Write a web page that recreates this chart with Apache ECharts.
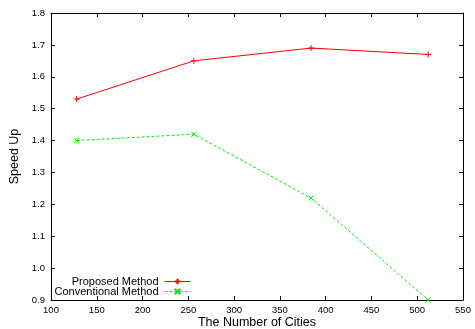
<!DOCTYPE html>
<html><head><meta charset="utf-8">
<script src="https://cdn.jsdelivr.net/npm/echarts@6/dist/echarts.min.js"></script>
<style>html,body{margin:0;padding:0;background:#fff}#c{width:475px;height:329px}</style>
</head><body><div id="c"></div>
<script>
const cities = [128, 256, 384, 512];
const proposed = [1.53, 1.65, 1.69, 1.67];
const conventional = [1.40, 1.42, 1.22, 0.90];
const xName = 'The Number of Cities';
const yName = 'Speed Up';
const seriesNames = ['Proposed Method', 'Conventional Method'];

const plus = 'path://M0,5L10,5M5,0L5,10';
const cross = 'path://M0,0L10,10M10,0L0,10';
const font = 'Liberation Sans';
const red = '#ff0000', green = '#00ee00';
const chart = echarts.init(document.getElementById('c'), null, {renderer: 'canvas'});
const axisCommon = {
  axisLine: {show: true, lineStyle: {color: '#000', width: 1}},
  axisTick: {show: true, inside: true, length: 4, lineStyle: {color: '#000'}},
  splitLine: {show: false}
};
const legendCommon = {
  right: 284, align: 'right', itemWidth: 26, itemHeight: 7, itemGap: 0, padding: 0,
  lineStyle: {width: 1, color: 'inherit', type: 'inherit'},
  textStyle: {fontFamily: font, fontSize: 11, lineHeight: 11, color: '#000', padding: [0, 1, 0, 0]}
};
chart.setOption({
  animation: false,
  backgroundColor: '#fff',
  grid: {left: 51, right: 12, top: 13, bottom: 29, show: false, containLabel: false, outerBoundsMode: 'none'},
  xAxis: [
    Object.assign({type: 'value', min: 100, max: 550, interval: 50, position: 'bottom',
      name: xName, nameLocation: 'middle', nameGap: 16, nameMoveOverlap: false,
      nameTextStyle: {fontFamily: font, fontSize: 12.5, color: '#000'},
      axisLabel: {fontFamily: font, fontSize: 9.5, color: '#000', margin: 5}}, axisCommon),
    Object.assign({type: 'value', min: 100, max: 550, interval: 50, position: 'top',
      axisLabel: {show: false}}, axisCommon)
  ],
  yAxis: [
    Object.assign({type: 'value', min: 0.9, max: 1.8, interval: 0.1, position: 'left',
      name: yName, nameLocation: 'middle', nameGap: 29, nameRotate: 90,
      nameTextStyle: {fontFamily: font, fontSize: 12.5, color: '#000'},
      axisLabel: {fontFamily: font, fontSize: 9.5, color: '#000', margin: 6,
        formatter: v => v.toFixed(1)}}, axisCommon),
    Object.assign({type: 'value', min: 0.9, max: 1.8, interval: 0.1, position: 'right',
      axisLabel: {show: false}}, axisCommon)
  ],
  legend: [
    Object.assign({top: 276, data: [seriesNames[0]]}, legendCommon),
    Object.assign({top: 286, data: [seriesNames[1]]}, legendCommon)
  ],
  series: [
    {name: seriesNames[0], type: 'line', data: cities.map((c, i) => [c, proposed[i]]),
      symbol: plus, symbolSize: 6, showAllSymbol: true, color: red,
      lineStyle: {color: red, width: 1},
      itemStyle: {color: red, borderColor: red, borderWidth: 1}},
    {name: seriesNames[1], type: 'line', data: cities.map((c, i) => [c, conventional[i]]),
      symbol: cross, symbolSize: 5, showAllSymbol: true, color: green,
      lineStyle: {color: green, width: 1, type: [3, 2]},
      itemStyle: {color: green, borderColor: green, borderWidth: 1}}
  ]
});
</script></body></html>
